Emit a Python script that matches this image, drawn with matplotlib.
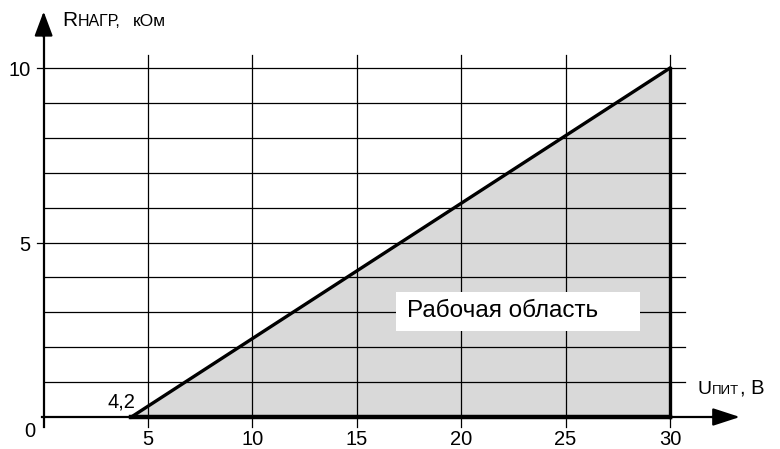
import matplotlib.pyplot as plt
from matplotlib.patches import Polygon, Rectangle

plt.rcParams['font.family'] = ['Liberation Sans', 'DejaVu Sans']

# рабочая область: U_пит, В / R_нагр, кОм
u_area = [4.2, 30, 30]
r_area = [0, 10, 0]
u_start = 4.2
u_ticks = [5, 10, 15, 20, 25, 30]
r_ticks = [5, 10]
r_grid = [1, 2, 3, 4, 5, 6, 7, 8, 9, 10]

fig = plt.figure(figsize=(7.8, 4.49), dpi=100)
ax = fig.add_axes([0, 0, 1, 1])
ax.set_xlim(-2.09, 35.27)
ax.set_ylim(-0.917, 11.95)
ax.axis('off')

# сетка
for r in r_grid:
    x0 = -0.33 if r in r_ticks else 0
    ax.plot([x0, 30.72], [r, r], color='black', lw=0.9, zorder=1)
for u in u_ticks:
    ax.plot([u, u], [-0.3, 10.37], color='black', lw=0.9, zorder=1)

# область
ax.add_patch(Polygon(list(zip(u_area, r_area)), closed=True,
                     facecolor='#d9d9d9', edgecolor='none', zorder=0.5))
ax.plot(u_area[:2], r_area[:2], color='black', lw=2.4, zorder=3)
ax.plot([u_area[1], u_area[2]], [r_area[1], r_area[2]], color='black', lw=2.4, zorder=3)
ax.plot([u_start, 30], [0, 0], color='black', lw=3.2, zorder=3)

# оси
ax.plot([0, 0], [-0.3, 11.0], color='black', lw=1.6, zorder=4)
ax.plot([-0.1, 32.5], [0, 0], color='black', lw=1.6, zorder=2)
ax.annotate('', xy=(0, 11.62), xytext=(0, 10.9),
            arrowprops=dict(arrowstyle='-|>,head_length=0.75,head_width=0.28',
                            mutation_scale=20, color='black', lw=1.6,
                            shrinkA=0, shrinkB=0), zorder=5)
ax.annotate('', xy=(33.35, 0), xytext=(32.0, 0),
            arrowprops=dict(arrowstyle='-|>,head_length=0.83,head_width=0.27',
                            mutation_scale=20, color='black', lw=1.6,
                            shrinkA=0, shrinkB=0), zorder=5)

# подписи делений
for u in u_ticks:
    ax.text(u, -0.81, str(u), ha='center', va='baseline', fontsize=14.5)
for r in r_ticks:
    ax.text(-0.62, r - 0.23, str(r), ha='right', va='baseline', fontsize=14.5)
ax.text(-0.65, -0.565, '0', ha='center', va='baseline', fontsize=14.5)
ax.text(4.38, 0.26, '4,2', ha='right', va='baseline', fontsize=14.5)

# подписи осей
ax.text(0.87, 11.21, 'R', fontsize=15, va='baseline')
ax.text(1.63, 11.21, 'НАГР,', fontsize=11.5, va='baseline')
ax.text(4.28, 11.21, 'кОм', fontsize=12.5, va='baseline')
ax.text(31.3, 0.66, 'U', fontsize=14, va='baseline')
ax.text(32.03, 0.66, 'ПИТ', fontsize=9.5, va='baseline')
ax.text(33.36, 0.66, ', В', fontsize=14.5, va='baseline')

# надпись
ax.add_patch(Rectangle((16.88, 2.47), 11.68, 1.12, facecolor='white',
                       edgecolor='none', zorder=6))
ax.text(17.39, 2.86, 'Рабочая область', fontsize=17.5, va='baseline', zorder=7)

fig.savefig('out.png', dpi=100)
